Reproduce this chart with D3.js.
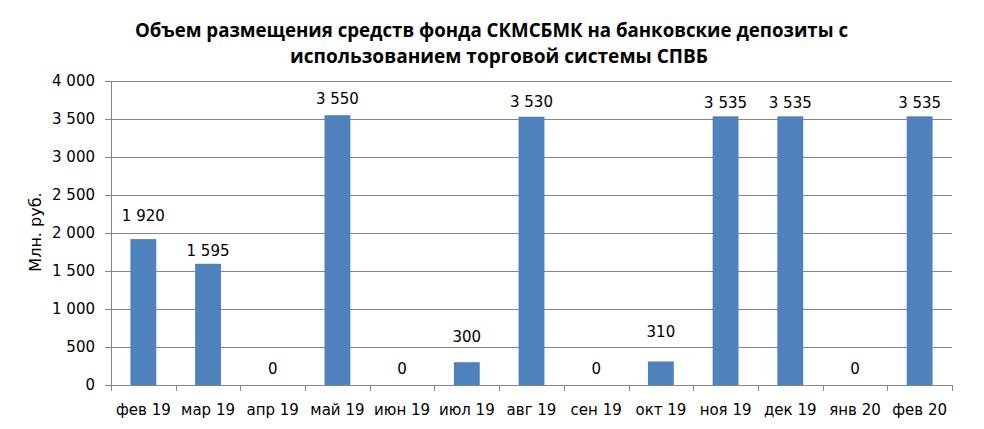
<!DOCTYPE html>
<html>
<head>
<meta charset="utf-8">
<script src="https://cdn.jsdelivr.net/npm/d3@7"></script>
<style>
  body { margin: 0; background: #fff; }
  text { font-family: "DejaVu Sans", sans-serif; fill: #000; }
</style>
</head>
<body>
<div id="chart"></div>
<script>
// chart data
var months = ["фев 19", "мар 19", "апр 19", "май 19", "июн 19", "июл 19", "авг 19",
              "сен 19", "окт 19", "ноя 19", "дек 19", "янв 20", "фев 20"];
var amounts = [1920, 1595, 0, 3550, 0, 300, 3530, 0, 310, 3535, 3535, 0, 3535];
var yTicks = [0, 500, 1000, 1500, 2000, 2500, 3000, 3500, 4000];
var titleLines = ["Объем размещения средств фонда СКМСБМК на банковские депозиты с",
                  "использованием торговой системы СПВБ"];
var yTitle = "Млн. руб.";

// how far each value label sits above its bar (some were dragged by hand)
var labelLift = [18, 8, 11, 11, 11, 20, 10, 11, 24, 8, 8, 11, 8];

var svgWidth = 984, svgHeight = 429;
var plotLeft = 111, plotRight = 952, plotTop = 81, plotBottom = 385;

var fmt = function(v) { return d3.format(",")(v).replace(/,/g, " "); };

var svg = d3.select("#chart").append("svg")
    .attr("width", svgWidth)
    .attr("height", svgHeight);

var x = d3.scaleBand()
    .domain(months)
    .range([plotLeft, plotRight])
    .paddingInner(0.6)
    .paddingOuter(0.3);

var xEdge = d3.scaleBand().domain(months).range([plotLeft, plotRight]);

var y = d3.scaleLinear()
    .domain([0, 4000])
    .range([plotBottom, plotTop]);

// title
svg.selectAll(".title")
    .data(titleLines)
    .enter()
    .append("text")
    .attr("class", "title")
    .attr("x", function(d, i) { return i == 0 ? 135 : 290; })
    .attr("y", function(d, i) { return 37 + i * 26; })
    .attr("textLength", function(d, i) { return i == 0 ? 713 : 418; })
    .attr("lengthAdjust", "spacingAndGlyphs")
    .style("font-family", "'Open Sans', sans-serif")
    .style("font-weight", "bold")
    .style("font-size", "19px")
    .text(function(d) { return d; });

// gridlines
svg.selectAll(".grid")
    .data(yTicks)
    .enter()
    .append("line")
    .attr("x1", plotLeft - 6)
    .attr("x2", plotRight)
    .attr("y1", function(d) { return Math.round(y(d)) + 0.5; })
    .attr("y2", function(d) { return Math.round(y(d)) + 0.5; })
    .attr("stroke", "#868686")
    .attr("stroke-width", 1);

// y axis line
svg.append("line")
    .attr("x1", plotLeft + 0.5).attr("x2", plotLeft + 0.5)
    .attr("y1", plotTop).attr("y2", plotBottom)
    .attr("stroke", "#868686");

// x tick marks
var edges = months.map(function(m) { return xEdge(m); }).concat([plotRight]);
svg.selectAll(".xtick")
    .data(edges)
    .enter()
    .append("line")
    .attr("x1", function(d) { return Math.round(d) + 0.5; })
    .attr("x2", function(d) { return Math.round(d) + 0.5; })
    .attr("y1", plotBottom)
    .attr("y2", plotBottom + 6)
    .attr("stroke", "#868686");

// y labels
svg.selectAll(".ylab")
    .data(yTicks)
    .enter()
    .append("text")
    .attr("x", 95)
    .attr("y", function(d) { return y(d) + 5; })
    .attr("text-anchor", "end")
    .style("font-size", "15px")
    .text(function(d) { return fmt(d); });

// y axis title
svg.append("text")
    .attr("transform", "translate(41,232) rotate(-90)")
    .attr("text-anchor", "middle")
    .style("font-size", "16px")
    .text(yTitle);

// bars
svg.selectAll(".bar")
    .data(amounts)
    .enter()
    .append("rect")
    .attr("x", function(d, i) { return x(months[i]); })
    .attr("y", function(d) { return y(d); })
    .attr("width", x.bandwidth())
    .attr("height", function(d) { return plotBottom - y(d); })
    .attr("fill", "#4f81bd");

// value labels
svg.selectAll(".val")
    .data(amounts)
    .enter()
    .append("text")
    .attr("x", function(d, i) { return x(months[i]) + x.bandwidth() / 2; })
    .attr("y", function(d, i) { return y(d) - labelLift[i]; })
    .attr("text-anchor", "middle")
    .style("font-size", "15px")
    .text(function(d) { return fmt(d); });

// x labels
svg.selectAll(".xlab")
    .data(months)
    .enter()
    .append("text")
    .attr("x", function(d) { return x(d) + x.bandwidth() / 2; })
    .attr("y", 415)
    .attr("text-anchor", "middle")
    .style("font-size", "15px")
    .text(function(d) { return d; });
</script>
</body>
</html>
